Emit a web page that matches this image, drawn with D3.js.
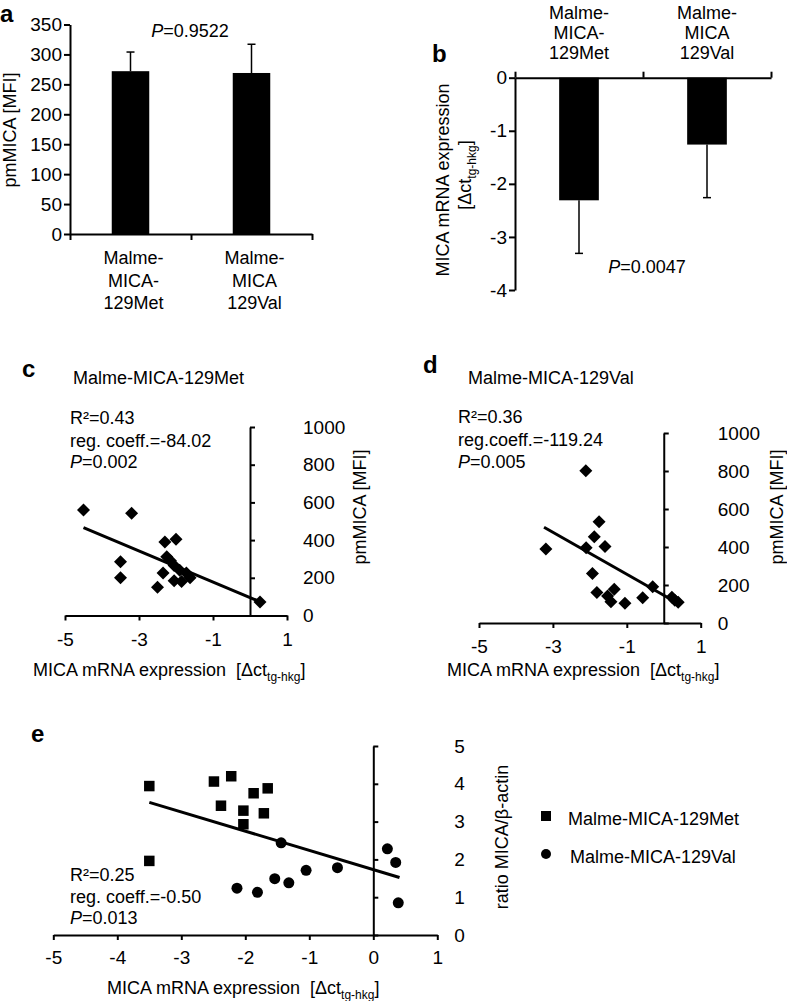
<!DOCTYPE html>
<html><head><meta charset="utf-8">
<script src="https://cdn.jsdelivr.net/npm/d3@7"></script>
<style>
body{margin:0;background:#fff}
svg text{font-family:"Liberation Sans",Arial,sans-serif;fill:#000}
</style>
</head><body>
<svg id="chart" width="787" height="1001"></svg>
<script>
// ---------- data ----------
const categories = [["Malme-","MICA-","129Met"],["Malme-","MICA","129Val"]];
const pmMICAmean = [272, 269];
const pmMICAsd = [32, 48];
const mRNAmean = [-2.31, -1.26];
const mRNAsd = [1.0, 1.0];
const yTicksA = [0,50,100,150,200,250,300,350];
const yTicksB = [0,-1,-2,-3,-4];
const xTicksCD = [-5,-3,-1,1];
const yTicksCD = [0,200,400,600,800,1000];
const xTicksE = [-5,-4,-3,-2,-1,0,1];
const yTicksE = [0,1,2,3,4,5];

// panel c (129Met): mRNA dct vs pmMICA
const cX = [-4.5,-3.2,-3.5,-3.5,-2.3,-2.0,-2.25,-2.05,-2.35,-2.5,-2.05,-1.85,-1.72,-1.62,-1.9,-2.15,0.27];
const cY = [560,542,285,200,390,405,312,265,225,150,185,180,225,200,240,290,72];
const cRegX = [-4.5, 0.27];
const cRegY = [466, 73];

// panel d (129Val)
const dX = [-2.11,-1.75,-1.88,-2.1,-1.59,-3.19,-1.93,-1.81,-1.52,-1.34,-1.43,-1.05,-0.57,-0.30,0.22,0.39,0.30];
const dY = [801,533,454,396,402,389,261,160,142,177,112,104,133,191,135,109,120];
const dRegX = [-3.24, 0.31];
const dRegY = [504, 112];

// panel e: mRNA vs ratio MICA/beta-actin
const eMetX = [-3.50,-2.49,-2.22,-2.38,-2.03,-2.03,-1.87,-1.65,-1.71,-3.50];
const eMetY = [3.94,4.06,4.20,3.42,3.29,2.93,3.75,3.88,3.22,1.96];
const eValX = [-1.44,-2.13,-1.81,-1.54,-1.32,-1.05,-0.56,0.22,0.35,0.39];
const eValY = [2.44,1.24,1.13,1.49,1.38,1.71,1.78,2.28,1.92,0.85];
const eRegX = [-3.5, 0.41];
const eRegY = [3.51, 1.52];

const seriesNames = ["Malme-MICA-129Met","Malme-MICA-129Val"];

// ---------- helpers ----------
const svg = d3.select("#chart");
const FS = 18;
const TFS = 19;
const fmt = d => String(d);
function styleAxis(g){
  g.attr("font-family",'"Liberation Sans",Arial,sans-serif').attr("font-size",TFS);
  g.selectAll("path,line").attr("stroke","#000").attr("stroke-width",2);
  g.selectAll("text").attr("fill","#000");
  return g;
}
function label(x,y,parts,anchor,extra){
  const t = svg.append("text").attr("x",x).attr("y",y).attr("font-size",FS)
    .attr("text-anchor",anchor||"start");
  if(extra) t.attr("transform",extra);
  parts.forEach(p=>{
    const s = t.append("tspan").text(p.t);
    if(p.i) s.attr("font-style","italic");
    if(p.fs) s.attr("font-size",p.fs);
    if(p.dy) s.attr("dy",p.dy);
  });
  return t;
}
function letter(x,y,ch){
  svg.append("text").attr("x",x).attr("y",y).attr("font-size",24).attr("font-weight","bold").text(ch);
}
const dctParts = [{t:"MICA mRNA expression\u00a0\u00a0[\u0394ct"},{t:"tg-hkg",fs:12,dy:5},{t:"]",dy:-5}];
const diamond = "M0,-6.5L6.5,0L0,6.5L-6.5,0Z";

// ---------- panel a ----------
{
  const y = d3.scaleLinear([0,350],[234,24.5]);
  const xb = d3.scaleBand([0,1],[70,312]);
  const xe = d3.scaleLinear([0,2],[70,312]);
  const bw = xb.bandwidth()*0.31;
  svg.append("g").selectAll("rect").data(pmMICAmean).join("rect")
    .attr("x",(d,i)=>xb(i)+xb.bandwidth()/2-bw/2).attr("width",bw)
    .attr("y",d=>y(d)).attr("height",d=>y(0)-y(d)).attr("fill","#000");
  const eg = svg.append("g").attr("stroke","#000").attr("stroke-width",1.5);
  pmMICAmean.forEach((m,i)=>{
    const cx = xb(i)+xb.bandwidth()/2;
    eg.append("line").attr("x1",cx).attr("x2",cx).attr("y1",y(m)).attr("y2",y(m+pmMICAsd[i]));
    eg.append("line").attr("x1",cx-4).attr("x2",cx+4).attr("y1",y(m+pmMICAsd[i])).attr("y2",y(m+pmMICAsd[i]));
  });
  styleAxis(svg.append("g").attr("transform","translate(70,0)")
    .call(d3.axisLeft(y).tickValues(yTicksA).tickFormat(fmt).tickSize(6).tickSizeOuter(0).tickPadding(2)));
  styleAxis(svg.append("g").attr("transform",`translate(0,${y(0)})`)
    .call(d3.axisBottom(xe).tickValues([0,1,2]).tickFormat("").tickSize(6).tickSizeOuter(0)));
  categories.forEach((c,i)=>{
    c.forEach((s,j)=>{
      svg.append("text").attr("x",xb(i)+xb.bandwidth()/2+3).attr("y",264+j*22.5)
        .attr("text-anchor","middle").attr("font-size",FS).text(s);
    });
  });
  label(190,37,[{t:"P",i:1},{t:"=0.9522"}],"middle");
  label(0,0,[{t:"pmMICA [MFI]"}],"middle","translate(16,130) rotate(-90)");
  letter(0,22,"a");
}

// ---------- panel b ----------
{
  const y = d3.scaleLinear([0,-4],[77.7,290]);
  const xb = d3.scaleBand([0,1],[515,771]);
  const xe = d3.scaleLinear([0,2],[515,771]);
  const bw = xb.bandwidth()*0.31;
  svg.append("g").selectAll("rect").data(mRNAmean).join("rect")
    .attr("x",(d,i)=>xb(i)+xb.bandwidth()/2-bw/2).attr("width",bw)
    .attr("y",y(0)).attr("height",d=>y(d)-y(0)).attr("fill","#000");
  const eg = svg.append("g").attr("stroke","#000").attr("stroke-width",1.5);
  mRNAmean.forEach((m,i)=>{
    const cx = xb(i)+xb.bandwidth()/2;
    eg.append("line").attr("x1",cx).attr("x2",cx).attr("y1",y(m)).attr("y2",y(m-mRNAsd[i]));
    eg.append("line").attr("x1",cx-4).attr("x2",cx+4).attr("y1",y(m-mRNAsd[i])).attr("y2",y(m-mRNAsd[i]));
  });
  styleAxis(svg.append("g").attr("transform","translate(515,0)")
    .call(d3.axisLeft(y).tickValues(yTicksB).tickFormat(fmt).tickSize(6).tickSizeOuter(0).tickPadding(2)));
  styleAxis(svg.append("g").attr("transform",`translate(0,${y(0)})`)
    .call(d3.axisTop(xe).tickValues([0,1,2]).tickFormat("").tickSize(6).tickSizeOuter(0)));
  categories.forEach((c,i)=>{
    c.forEach((s,j)=>{
      svg.append("text").attr("x",xb(i)+xb.bandwidth()/2).attr("y",19+j*20)
        .attr("text-anchor","middle").attr("font-size",FS).text(s);
    });
  });
  label(647,273,[{t:"P",i:1},{t:"=0.0047"}],"middle");
  label(0,0,[{t:"MICA mRNA expression"}],"middle","translate(449,180) rotate(-90)");
  label(0,0,[{t:"[\u0394ct"},{t:"tg-hkg",fs:12,dy:5},{t:"]",dy:-5}],"middle","translate(471,175) rotate(-90)");
  letter(432,62,"b");
}

// ---------- scatter helper ----------
function scatter(o){
  const x = d3.scaleLinear([-5,1],o.xr);
  const y = d3.scaleLinear(o.yd,o.yr);
  styleAxis(svg.append("g").attr("transform",`translate(0,${o.yr[0]})`)
    .call(d3.axisBottom(x).tickValues(o.xt).tickSize(5).tickSizeOuter(0).tickPadding(o.xpad)
      .tickFormat(fmt)));
  styleAxis(svg.append("g").attr("transform",`translate(${x(0)},0)`)
    .call(d3.axisRight(y).tickValues(o.yt).tickSize(5).tickSizeOuter(0).tickPadding(o.ypad).tickFormat(fmt)));
  return {x,y};
}
function regLine(s,xs,ys){
  svg.append("line").attr("x1",s.x(xs[0])).attr("y1",s.y(ys[0]))
    .attr("x2",s.x(xs[1])).attr("y2",s.y(ys[1])).attr("stroke","#000").attr("stroke-width",3);
}

// ---------- panel c ----------
{
  const s = scatter({xr:[65,287],yd:[0,1000],yr:[615.5,427],xt:xTicksCD,yt:yTicksCD,xpad:12,ypad:48});
  svg.append("g").selectAll("path").data(cX).join("path").attr("d",diamond)
    .attr("transform",(d,i)=>`translate(${s.x(d)},${s.y(cY[i])})`).attr("fill","#000");
  regLine(s,cRegX,cRegY);
  letter(22,377,"c");
  label(73,384,[{t:seriesNames[0]}]);
  label(70,424,[{t:"R\u00b2=0.43"}]);
  label(70,447,[{t:"reg. coeff.=-84.02"}]);
  label(70,468,[{t:"P",i:1},{t:"=0.002"}]);
  label(0,0,[{t:"pmMICA [MFI]"}],"middle","translate(366,507) rotate(-90)");
  label(33,676,dctParts);
}

// ---------- panel d ----------
{
  const s = scatter({xr:[479,700.7],yd:[0,1000],yr:[623,433],xt:xTicksCD,yt:yTicksCD,xpad:12,ypad:49});
  svg.append("g").selectAll("path").data(dX).join("path").attr("d",diamond)
    .attr("transform",(d,i)=>`translate(${s.x(d)},${s.y(dY[i])})`).attr("fill","#000");
  regLine(s,dRegX,dRegY);
  letter(423,373,"d");
  label(468,384,[{t:seriesNames[1]}]);
  label(458,423,[{t:"R\u00b2=0.36"}]);
  label(458,446,[{t:"reg.coeff.=-119.24"}]);
  label(458,468,[{t:"P",i:1},{t:"=0.005"}]);
  label(0,0,[{t:"pmMICA [MFI]"}],"middle","translate(783,507) rotate(-90)");
  label(447,676,dctParts);
}

// ---------- panel e ----------
{
  const s = scatter({xr:[53.3,437.3],yd:[0,5],yr:[935,746],xt:xTicksE,yt:yTicksE,xpad:11,ypad:76});
  const sq = 10.5;
  svg.append("g").selectAll("rect").data(eMetX).join("rect")
    .attr("x",d=>s.x(d)-sq/2).attr("y",(d,i)=>s.y(eMetY[i])-sq/2)
    .attr("width",sq).attr("height",sq).attr("fill","#000");
  svg.append("g").selectAll("circle").data(eValX).join("circle")
    .attr("cx",d=>s.x(d)).attr("cy",(d,i)=>s.y(eValY[i])).attr("r",5.5).attr("fill","#000");
  regLine(s,eRegX,eRegY);
  letter(31,742,"e");
  label(70,881,[{t:"R\u00b2=0.25"}]);
  label(70,903,[{t:"reg. coeff.=-0.50"}]);
  label(70,924,[{t:"P",i:1},{t:"=0.013"}]);
  label(0,0,[{t:"ratio MICA/\u03b2-actin"}],"middle","translate(508,837) rotate(-90)");
  label(107,994,dctParts);
  // legend
  svg.append("rect").attr("x",546-5).attr("y",816-5).attr("width",10).attr("height",10).attr("fill","#000");
  svg.append("circle").attr("cx",546).attr("cy",854).attr("r",5).attr("fill","#000");
  label(568,825,[{t:seriesNames[0]}]);
  label(570,863,[{t:seriesNames[1]}]);
}
</script>
</body></html>
